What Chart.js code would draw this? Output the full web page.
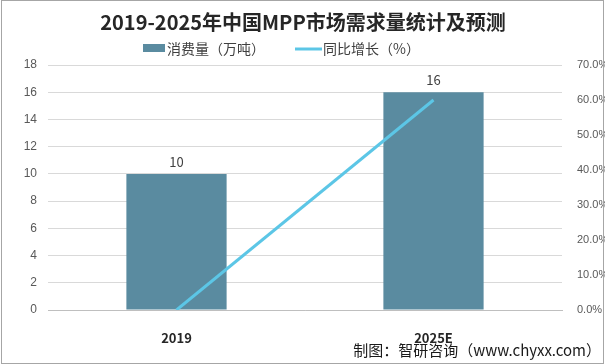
<!DOCTYPE html>
<html lang="zh">

<head>
    <meta charset="UTF-8">
    <title>2019-2025年中国MPP市场需求量统计及预测</title>
    <script src="https://cdn.jsdelivr.net/npm/chart.js"></script>
    <style>
        html, body {
            margin: 0;
            padding: 0;
            background: #ffffff;
        }

        #wrap {
            width: 605px;
            height: 364px;
        }
    </style>
</head>

<body>
    <div id="wrap"><canvas id="mppChart"></canvas></div>

    <script type='text/javascript'>
        // chart data
        var years = ['2019', '2025E'];
        var consumption = [10, 16];        // 消费量（万吨）
        var growth = [0, 60];              // 同比增长（%）
        var leftTicks = [0, 2, 4, 6, 8, 10, 12, 14, 16, 18];
        var rightTicks = [0, 10, 20, 30, 40, 50, 60, 70];

        var barColor = '#5a8ba0';
        var lineColor = '#5cc6e6';
        var font = '"Noto Sans CJK SC", "Noto Sans", sans-serif';
        var tickFont = '"Liberation Sans", Arial, sans-serif';

        // title, legend, value labels, footer, frame
        var decor = {
            id: 'decor',
            afterDraw: function (chart) {
                var ctx = chart.ctx;
                ctx.save();
                // frame
                ctx.strokeStyle = '#a6a6a6';
                ctx.lineWidth = 1;
                ctx.strokeRect(1.5, 0.5, 602, 363);

                // title
                ctx.fillStyle = '#262626';
                ctx.font = 'bold 20px ' + font;
                ctx.textAlign = 'center';
                ctx.textBaseline = 'middle';
                ctx.fillText('2019-2025年中国MPP市场需求量统计及预测', 303, 22);

                // legend
                ctx.font = '14px ' + font;
                ctx.textAlign = 'left';
                ctx.fillStyle = barColor;
                ctx.fillRect(143, 44, 22, 8);
                ctx.fillStyle = '#404040';
                ctx.fillText('消费量（万吨）', 167, 49);
                ctx.strokeStyle = lineColor;
                ctx.lineWidth = 3;
                ctx.beginPath();
                ctx.moveTo(295, 49);
                ctx.lineTo(322, 49);
                ctx.stroke();
                ctx.fillText('同比增长（%）', 323, 49);

                // value labels over bars
                var meta = chart.getDatasetMeta(1);
                ctx.font = '13px ' + font;
                ctx.textAlign = 'center';
                ctx.fillStyle = '#404040';
                meta.data.forEach(function (bar, i) {
                    ctx.fillText(String(consumption[i]), bar.x, bar.y - 12);
                });

                // footer
                ctx.font = '15px ' + font;
                ctx.textAlign = 'right';
                ctx.fillStyle = '#1a1a1a';
                ctx.fillText('制图：智研咨询（www.chyxx.com）', 601, 350);
                ctx.restore();
            }
        };

        var ctx = document.getElementById('mppChart').getContext('2d');

        new Chart(ctx, {
            data: {
                labels: years,
                datasets: [{
                    type: 'line',
                    label: '同比增长（%）',
                    data: growth,
                    yAxisID: 'y1',
                    borderColor: lineColor,
                    borderWidth: 3,
                    pointRadius: 0,
                    tension: 0,
                    order: 0
                }, {
                    type: 'bar',
                    label: '消费量（万吨）',
                    data: consumption,
                    yAxisID: 'y',
                    backgroundColor: barColor,
                    categoryPercentage: 1,
                    barPercentage: 0.39,
                    order: 1
                }]
            },
            options: {
                responsive: true,
                maintainAspectRatio: false,
                animation: false,
                layout: {
                    padding: { top: 65, left: 0, right: 0, bottom: 0 }
                },
                plugins: {
                    legend: { display: false },
                    title: { display: false },
                    tooltip: { enabled: false }
                },
                scales: {
                    x: {
                        grid: { display: false },
                        border: { display: true, color: '#bfbfbf' },
                        ticks: {
                            color: '#262626',
                            font: { family: font, size: 13, weight: 'bold' },
                            padding: 12
                        },
                        afterFit: function (axis) { axis.height = 54; }
                    },
                    y: {
                        position: 'left',
                        min: 0,
                        max: 18,
                        afterBuildTicks: function (axis) {
                            axis.ticks = leftTicks.map(function (v) { return { value: v }; });
                        },
                        grid: { color: '#d9d9d9', drawTicks: false },
                        border: { display: false },
                        ticks: {
                            color: '#595959',
                            font: { family: tickFont, size: 12 },
                            padding: 11
                        },
                        afterFit: function (axis) { axis.width = 48; }
                    },
                    y1: {
                        position: 'right',
                        min: 0,
                        max: 70,
                        afterBuildTicks: function (axis) {
                            axis.ticks = rightTicks.map(function (v) { return { value: v }; });
                        },
                        grid: { display: false },
                        border: { display: false },
                        ticks: {
                            color: '#595959',
                            font: { family: tickFont, size: 11 },
                            padding: 7,
                            callback: function (v) { return v.toFixed(1) + '%'; }
                        },
                        afterFit: function (axis) { axis.width = 43; }
                    }
                }
            },
            plugins: [decor]
        });
    </script>

</body>

</html>
